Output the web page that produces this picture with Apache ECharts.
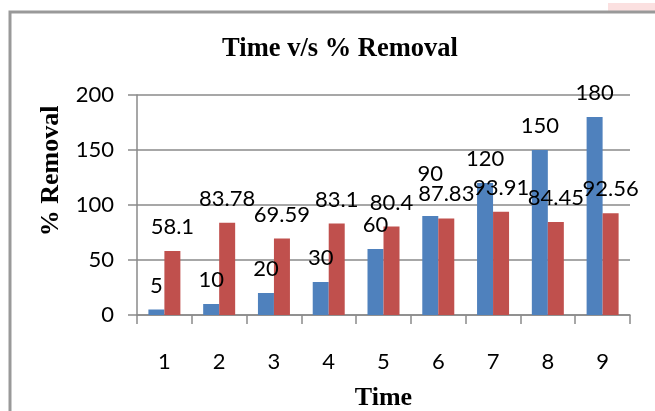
<!DOCTYPE html>
<html>
<head>
<meta charset="utf-8">
<script src="https://cdn.jsdelivr.net/npm/echarts@6/dist/echarts.min.js"></script>
<style>
  html, body { margin: 0; padding: 0; background: #fff; }
  #chart { width: 655px; height: 411px; }
</style>
</head>
<body>
<div id="chart"></div>
<script>
// categories on the x axis
const categories = ['1', '2', '3', '4', '5', '6', '7', '8', '9']
// blue series
const timeValues = [5, 10, 20, 30, 60, 90, 120, 150, 180]
// red series
const removalValues = [58.1, 83.78, 69.59, 83.1, 80.4, 87.83, 93.91, 84.45, 92.56]
// y axis range
const yMin = 0
const yMax = 200
const yStep = 50

const labelFont = 'Lato, "Noto Sans", sans-serif'
const serifFont = '"Liberation Serif", "DejaVu Serif", serif'

const chart = echarts.init(document.getElementById('chart'), null, { renderer: 'canvas' })

// data label settings shared by both series
const dataLabel = {
  show: true,
  position: 'top',
  distance: 13,
  color: '#000',
  fontFamily: labelFont,
  fontSize: 22
}

// the "90" label sits higher, clear of the "87.83" label next to it
const blueData = timeValues.map((v, i) => {
  if (i === 5) return { value: v, label: { distance: 31 } }
  return v
})

const option = {
  backgroundColor: '#fff',
  animation: false,
  title: {
    text: 'Time v/s % Removal',
    left: 335,
    textAlign: 'center',
    top: 31,
    textStyle: {
      fontFamily: serifFont,
      fontWeight: 'bold',
      fontSize: 26.5,
      color: '#000'
    }
  },
  grid: {
    left: 137,
    right: 25,
    top: 95,
    bottom: 96,
    containLabel: false,
    outerBoundsMode: 'none'
  },
  xAxis: {
    type: 'category',
    data: categories,
    name: 'Time',
    nameLocation: 'middle',
    nameGap: 70,
    nameTextStyle: {
      fontFamily: serifFont,
      fontWeight: 'bold',
      fontSize: 26,
      color: '#000'
    },
    axisLine: { lineStyle: { color: '#8a8a8a', width: 1.5 } },
    axisTick: { show: true, length: 9, lineStyle: { color: '#8a8a8a', width: 1.5 } },
    axisLabel: {
      margin: 36,
      color: '#000',
      fontFamily: labelFont,
      fontSize: 22
    }
  },
  yAxis: {
    type: 'value',
    min: yMin,
    max: yMax,
    interval: yStep,
    axisLine: { show: true, lineStyle: { color: '#8a8a8a', width: 1.5 } },
    axisTick: { show: true, length: 9, lineStyle: { color: '#8a8a8a', width: 1.5 } },
    splitLine: { lineStyle: { color: '#8a8a8a', width: 1.5 } },
    axisLabel: {
      margin: 23,
      color: '#000',
      fontFamily: labelFont,
      fontSize: 22
    }
  },
  series: [
    {
      name: 'Time',
      type: 'bar',
      data: blueData,
      barWidth: 16,
      barGap: '0%',
      itemStyle: { color: '#4F81BD' },
      label: dataLabel
    },
    {
      name: '% Removal',
      type: 'bar',
      data: removalValues,
      barWidth: 16,
      barGap: '0%',
      itemStyle: { color: '#C0504D' },
      label: dataLabel
    }
  ],
  graphic: [
    // outer chart border (runs off the right and bottom edges)
    {
      type: 'rect',
      z: -1,
      shape: { x: 10, y: 12, width: 700, height: 500 },
      style: { fill: null, stroke: '#999', lineWidth: 3 }
    },
    // faint pink patch at the top right corner
    {
      type: 'rect',
      z: -2,
      shape: { x: 608, y: 3, width: 50, height: 9 },
      style: { fill: '#fbe0e0' }
    },
    // y axis title, rotated
    {
      type: 'text',
      x: 51,
      y: 171,
      rotation: Math.PI / 2,
      style: {
        text: '% Removal',
        fontFamily: serifFont,
        fontWeight: 'bold',
        fontSize: 26,
        fill: '#000',
        align: 'center',
        verticalAlign: 'middle'
      }
    }
  ]
}

chart.setOption(option)
</script>
</body>
</html>
